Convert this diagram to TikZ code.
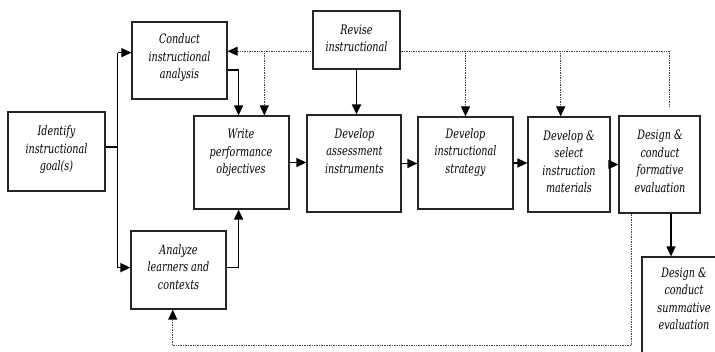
\documentclass[tikz,border=0pt]{standalone}
\usepackage{fontspec}
\usetikzlibrary{arrows.meta,calc}
\newfontfamily\boxfont{DejaVu Serif}[FakeStretch=0.74]

\tikzset{
  box/.style={draw=black!85, line width=1.2pt, inner sep=0pt, fill=white},
  lbl/.style={align=center, inner sep=0pt,
    font=\boxfont\itshape\fontsize{13}{17.5}\selectfont},
  conn/.style={line width=1.3pt, draw=black},
  tip/.style={-{Triangle[length=10pt,width=9pt,color=black]}},
  arr/.style={conn, tip},
  dots/.style={line width=0.9pt, draw=black!75, dash pattern=on 0.9pt off 0.8pt},
}

\begin{document}
\begin{tikzpicture}[x=1pt,y=-1pt]
\clip (0,0) rectangle (715,352);
\fill[white] (0,0) rectangle (715,352);

% boxes
\node[box, minimum width=97pt, minimum height=79pt] (identify)  at (56.5,151.5) {};
\node[box, minimum width=95pt, minimum height=77pt] (conduct)   at (179.5,60.5) {};
\node[box, minimum width=87pt, minimum height=58pt] (revise)    at (356.5,40) {};
\node[box, minimum width=95pt, minimum height=93pt] (write)     at (241.5,162.5) {};
\node[box, minimum width=94pt, minimum height=97pt] (assess)    at (354,163.5) {};
\node[box, minimum width=95pt, minimum height=92pt] (strategy)  at (465.5,163) {};
\node[box, minimum width=82pt, minimum height=95pt] (select)    at (569,164.5) {};
\node[box, minimum width=81pt, minimum height=97pt] (formative) at (659.5,164.5) {};
\node[box, minimum width=84pt, minimum height=108pt] (summative) at (684,311) {};
\node[box, minimum width=95pt, minimum height=78pt] (analyze)   at (178.5,270) {};

% box texts
\node[lbl] (identify-t)  at (56.5,150)  {Identify\\instructional\\goal(s)};
\node[lbl] (conduct-t)   at (179.5,58)  {Conduct\\instructional\\analysis};
\node[lbl] (revise-t)    at (356.5,38.5) {Revise\\instructional};
\node[lbl] (write-t)     at (241,153)   {Write\\performance\\objectives};
\node[lbl] (assess-t)    at (354.5,151) {Develop\\assessment\\instruments};
\node[lbl] (strategy-t)  at (465.5,152.5) {Develop\\instructional\\strategy};
\node[lbl] (select-t)    at (569,161.5) {Develop \&\\select\\instruction\\materials};
\node[lbl] (formative-t) at (660,161.5) {Design \&\\conduct\\formative\\evaluation};
\node[lbl] (summative-t) at (684,299)   {Design \&\\conduct\\summative\\evaluation};
\node[lbl] (analyze-t)   at (178.5,267) {Analyze\\learners and\\contexts};

% goal branches to analysis and learners
\coordinate (gout) at ($(identify.north east)!0.443!(identify.south east)$);
\coordinate (cin)  at ($(conduct.north west)!0.4!(conduct.south west)$);
\coordinate (ain)  at ($(analyze.north west)!0.47!(analyze.south west)$);
\draw[conn] (gout) -- ++(12,0) coordinate (split);
\draw[conn] (split |- cin) -- (split |- ain);
\draw[arr] (split |- cin) -- (cin);
\draw[arr] (split |- ain) -- (ain);

% both feed the objectives
\draw[arr] ($(conduct.north east)!0.62!(conduct.south east)$) -| ($(write.north west)!0.47!(write.north east)$);
\draw[arr] ($(analyze.north east)!0.47!(analyze.south east)$) -| ($(write.south west)!0.47!(write.south east)$);

% main chain
\draw[arr] (write.east) -- (write.east -| assess.west);
\draw[arr] (assess.east) -- (assess.east -| strategy.west);
\draw[arr] (strategy.east) -- (strategy.east -| select.west);
\draw[arr] (select.east) -- (select.east -| formative.west);

% revision into assessment
\draw[arr, line width=1.9pt] (revise.south) -- (revise.south |- assess.north);

% formative to summative
\coordinate (fs) at ($(formative.south west)!0.64!(formative.south east)$);
\draw[arr] (fs) -- (fs |- summative.north);

% dotted revision paths
\coordinate (rw) at ($(revise.north west)!0.69!(revise.south west)$);
\coordinate (re) at ($(revise.north east)!0.69!(revise.south east)$);
\coordinate (wt) at ($(write.north west)!0.737!(write.north east)$);
\coordinate (st) at ($(select.north west)!0.4!(select.north east)$);
\coordinate (fend) at ($(formative.north west)!0.617!(formative.north east)+(0,-8)$);
\draw[dots, tip] (rw) -- (rw -| conduct.east);
\draw[dots, tip] (rw -| wt) -- (wt);
\draw[dots] (re) -| (fend);
\draw[dots, tip] (re -| strategy.north) -- (strategy.north);
\draw[dots, tip] (re -| st) -- (st);

% dotted feedback to learners
\coordinate (fb) at ($(formative.south west)!0.16!(formative.south east)$);
\coordinate (ab) at ($(analyze.south west)!0.44!(analyze.south east)$);
\draw[dots, tip] (fb) -- ++(0,132) -| (ab);
\end{tikzpicture}
\end{document}
